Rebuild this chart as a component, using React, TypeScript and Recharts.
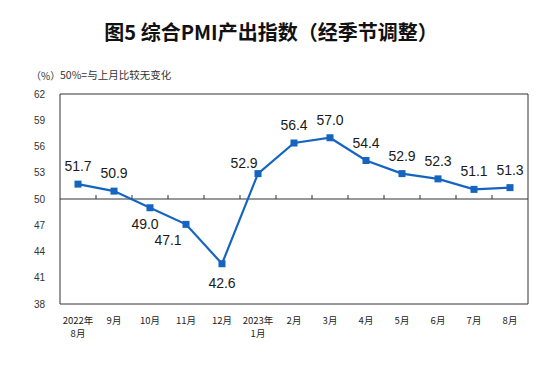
import { ComposedChart, Line, XAxis, YAxis, ReferenceLine, ReferenceArea } from "recharts";

// 月份（带换行的为跨年标签）
const months = [
	"2022年\n8月", "9月", "10月", "11月", "12月", "2023年\n1月",
	"2月", "3月", "4月", "5月", "6月", "7月", "8月",
];
const pmi = [51.7, 50.9, 49.0, 47.1, 42.6, 52.9, 56.4, 57.0, 54.4, 52.9, 52.3, 51.1, 51.3];
const yTicks = [38, 41, 44, 47, 50, 53, 56, 59, 62];
// label placement keywords, one per point
const labelSpots = ["above", "above", "belowLeft", "belowLeft", "below", "aboveLeft", "above", "above", "above", "above", "above", "above", "above"];

const data = months.map((m, i) => ({ month: m, value: pmi[i] }));

const BLUE = "#1565c0";
const INK = "#333";

const MonthTick = ({ x, y, payload }: any) => {
	const lines = String(payload.value).split("\n");
	return (
		<text x={x} y={y} textAnchor="middle" fontSize={9.5} fill="#222" fontFamily="'Noto Sans CJK SC', sans-serif">
			{lines.map((l, i) => (
				<tspan key={i} x={x} dy={i === 0 ? 12 : 13}>
					{l}
				</tspan>
			))}
		</text>
	);
};

const SquareDot = ({ cx, cy }: any) => <rect x={cx - 3.5} y={cy - 3.5} width={7} height={7} fill={BLUE} />;

const ValueLabel = ({ x, y, value, index }: any) => {
	const spot = labelSpots[index];
	let dx = 0;
	let dy = -13;
	if (spot === "below") dy = 24;
	if (spot === "belowLeft") {
		dx = index === 3 ? -18 : -5;
		dy = 21;
	}
	if (spot === "aboveLeft") {
		dx = -14;
		dy = -6;
	}
	return (
		<text x={x + dx} y={y + dy} textAnchor="middle" fontSize={14} fill="#1a1a1a" fontFamily="'Liberation Sans', Arial, sans-serif">
			{value.toFixed(1)}
		</text>
	);
};

// 50线，带向上的分隔刻度
const FiftyLine = ({ x1, y1, x2, y2 }: any) => {
	const step = (x2 - x1) / months.length;
	return (
		<g>
			<line x1={x1} y1={y1} x2={x2} y2={y2} stroke={INK} strokeWidth={1} />
			{months.slice(1).map((_, i) => (
				<line key={i} x1={x1 + step * (i + 1)} y1={y1} x2={x1 + step * (i + 1)} y2={y1 - 4} stroke={INK} strokeWidth={1} />
			))}
		</g>
	);
};

export default function App() {
	return (
		<div style={{ position: "absolute", left: 0, top: 0, width: 556, height: 371, background: "#fff" }}>
			<div
				style={{
					position: "absolute",
					left: 0,
					width: 542,
					top: 17,
					textAlign: "center",
					fontFamily: "'Noto Sans CJK SC', sans-serif",
					fontWeight: 600,
					fontSize: 20,
					color: "#111",
					lineHeight: "30px",
				}}
			>
				图5 综合PMI产出指数（经季节调整）
			</div>
			<div style={{ position: "absolute", left: 31, top: 69, fontSize: 10, color: INK, fontFamily: "'Noto Sans CJK SC', sans-serif", lineHeight: "14px" }}>
				（%）
			</div>
			<div style={{ position: "absolute", left: 60, top: 68, fontSize: 10.5, color: INK, fontFamily: "'Noto Sans CJK SC', sans-serif", lineHeight: "14px" }}>
				50%=与上月比较无变化
			</div>
			<ComposedChart width={556} height={371} data={data} margin={{ top: 94, right: 28, bottom: 27, left: 0 }}>
				<ReferenceArea y1={38} y2={62} fill="none" stroke={INK} strokeWidth={1} fillOpacity={0} />
				<XAxis dataKey="month" scale="band" axisLine={false} tickLine={false} height={40} interval={0} tick={<MonthTick />} />
				<YAxis
					domain={[38, 62]}
					ticks={yTicks}
					axisLine={false}
					tickLine={false}
					width={60}
					tickMargin={9}
					tick={{ fontSize: 10, fill: INK, fontFamily: "'Liberation Sans', Arial, sans-serif" }}
				/>
				<ReferenceLine y={50} shape={<FiftyLine />} />
				<Line
					dataKey="value"
					stroke={BLUE}
					strokeWidth={2.2}
					dot={<SquareDot />}
					activeDot={false}
					isAnimationActive={false}
					label={<ValueLabel />}
				/>
			</ComposedChart>
		</div>
	);
}
